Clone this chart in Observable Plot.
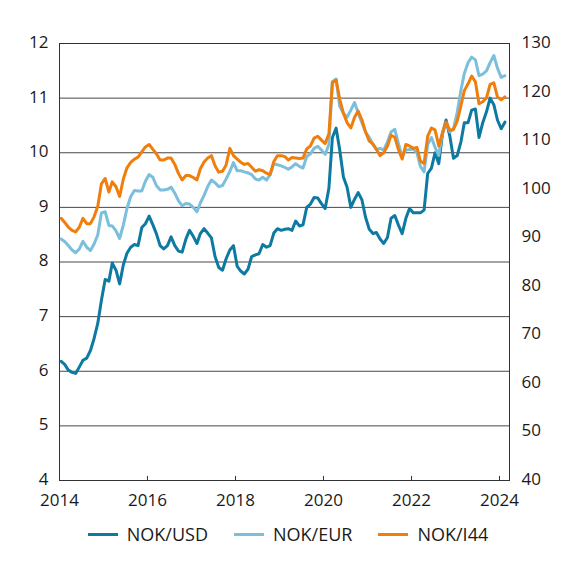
<!DOCTYPE html>
<html>
<head>
<meta charset="utf-8">
<script src="https://cdn.jsdelivr.net/npm/d3@7"></script>
<script src="https://cdn.jsdelivr.net/npm/@observablehq/plot@0.6"></script>
<style>
  body { margin: 0; background: #fff; font-family: "Open Sans", sans-serif; }
  #chart { width: 576px; }
  .legend { display: flex; justify-content: center; align-items: center; margin-top: 10px; height: 24px; font-size: 18px; color: #1a1a1a; }
  .legend .item { display: flex; align-items: center; margin: 0 13px; }
  .legend .sw { width: 30px; height: 3px; margin-right: 9px; }
</style>
</head>
<body>
<div id="chart"></div>
<script>
// monthly values, Jan 2014 - Feb 2024
const nokUsd = [
  6.18, 6.12, 6.02, 5.98, 5.96, 6.08, 6.2, 6.24, 6.38, 6.6, 6.88, 7.3,
  7.68, 7.65, 7.98, 7.85, 7.6, 7.95, 8.16, 8.27, 8.32, 8.3, 8.63, 8.7,
  8.84, 8.68, 8.52, 8.3, 8.24, 8.3, 8.46, 8.3, 8.2, 8.18, 8.42, 8.58,
  8.47, 8.34, 8.52, 8.61, 8.53, 8.44, 8.1, 7.9, 7.85, 8.06, 8.22, 8.3,
  7.92, 7.83, 7.78, 7.87, 8.1, 8.13, 8.15, 8.32, 8.27, 8.3, 8.53, 8.61,
  8.58, 8.6, 8.61, 8.58, 8.75, 8.66, 8.68, 9.0, 9.06, 9.18, 9.17, 9.07,
  8.98, 9.35, 10.28, 10.45, 10.05, 9.55, 9.37, 9.0, 9.15, 9.27, 9.14, 8.82,
  8.6, 8.52, 8.54, 8.42, 8.34, 8.45, 8.8, 8.85, 8.67, 8.52, 8.8, 8.98,
  8.9, 8.9, 8.9, 8.95, 9.62, 9.72, 10.0, 9.8, 10.35, 10.6, 10.3, 9.9,
  9.95, 10.2, 10.55, 10.55, 10.78, 10.8, 10.28, 10.55, 10.75, 11.0, 10.88, 10.6,
  10.44, 10.56
]
const nokEur = [
  8.42, 8.37, 8.3, 8.22, 8.17, 8.24, 8.38, 8.27, 8.21, 8.33, 8.5, 8.9,
  8.92, 8.67, 8.66, 8.57, 8.43, 8.68, 8.98, 9.2, 9.31, 9.3, 9.3, 9.48,
  9.6, 9.55, 9.4, 9.32, 9.32, 9.33, 9.37, 9.26, 9.12, 9.03, 9.07, 9.06,
  9.0, 8.92, 9.08, 9.22, 9.38, 9.5, 9.45, 9.38, 9.4, 9.52, 9.66, 9.82,
  9.67, 9.67, 9.65, 9.63, 9.6, 9.52, 9.5, 9.55, 9.5, 9.6, 9.8, 9.78,
  9.76, 9.73, 9.7, 9.74, 9.8, 9.75, 9.72, 9.93, 9.98, 10.08, 10.12, 10.05,
  9.97, 10.15, 11.3, 11.35, 10.85, 10.72, 10.65, 10.78, 10.92, 10.73, 10.55, 10.38,
  10.28, 10.15, 10.06, 10.08, 10.05, 10.2, 10.38, 10.43, 10.16, 9.93, 10.05, 10.06,
  10.07, 10.0, 9.75, 9.65, 10.15, 10.28, 10.1, 9.95, 10.38, 10.55, 10.38, 10.44,
  10.74, 11.15, 11.45, 11.65, 11.75, 11.7, 11.41, 11.44, 11.5, 11.65, 11.78, 11.55,
  11.38, 11.41
]
// NOK/I44 index, right axis
const nokI44 = [
  94.0, 93.1, 92.2, 91.5, 91.2, 92.2, 94.0, 92.9, 92.9, 94.3, 96.5, 101.1,
  102.2, 99.4, 101.5, 100.5, 98.5, 102.1, 104.4, 105.5, 106.2, 106.6, 107.7, 108.7,
  109.2, 108.2, 107.3, 106.0, 106.0, 106.4, 106.4, 105.1, 103.2, 101.9, 102.8, 102.8,
  102.4, 101.9, 104.2, 105.6, 106.4, 106.9, 104.8, 103.5, 103.7, 105.0, 108.4, 106.9,
  106.2, 105.5, 105.1, 105.3, 104.5, 103.7, 104.0, 103.8, 103.3, 103.0, 105.7, 106.9,
  106.9, 106.7, 106.0, 106.5, 106.4, 106.3, 106.4, 108.3, 108.9, 110.5, 110.9, 110.1,
  109.4, 111.4, 122.0, 122.4, 118.5, 115.6, 113.7, 112.6, 114.8, 116.1, 114.3, 111.8,
  109.9, 109.3, 108.2, 106.9, 107.5, 108.9, 111.1, 110.7, 108.1, 106.2, 109.2, 108.9,
  108.4, 108.6, 105.8, 105.3, 110.9, 112.6, 112.2, 108.9, 111.6, 113.8, 112.1, 112.3,
  114.0, 117.2, 120.3, 121.7, 123.3, 122.1, 117.6, 118.0, 118.8, 121.6, 121.9, 119.0,
  118.4, 119.0
]

const seriesNames = ['NOK/USD', 'NOK/EUR', 'NOK/I44']
const colors = ['#0e7aa1', '#7bbfdc', '#f07e0c']
const leftTicks = [4, 5, 6, 7, 8, 9, 10, 11, 12]
const rightTicks = [40, 50, 60, 70, 80, 90, 100, 110, 120, 130]
const yearTicks = [2014, 2016, 2018, 2020, 2022, 2024]

// right axis 40..130 sits on the left scale 4..12
const toLeft = v => 4 + (v - 40) / 11.25

const months = nokUsd.map((_, i) => new Date(Date.UTC(2014, i, 15)))
const rows = []
months.forEach((date, i) => {
  rows.push({date, series: seriesNames[0], value: nokUsd[i]})
  rows.push({date, series: seriesNames[1], value: nokEur[i]})
  rows.push({date, series: seriesNames[2], value: toLeft(nokI44[i])})
})

const yearDates = yearTicks.map(y => new Date(Date.UTC(y, 0, 1)))

const chart = Plot.plot({
  width: 576,
  height: 512,
  marginLeft: 59,
  marginRight: 67,
  marginTop: 43,
  marginBottom: 32,
  style: {fontFamily: '"Open Sans", sans-serif', fontSize: '17px', color: '#1a1a1a'},
  x: {type: 'utc', domain: [new Date(Date.UTC(2014, 0, 1)), new Date(Date.UTC(2024, 2, 24))]},
  y: {domain: [4, 12]},
  color: {domain: seriesNames, range: colors},
  marks: [
    Plot.gridY(leftTicks.slice(1, -1), {stroke: '#333', strokeOpacity: 1, strokeWidth: 0.9}),
    Plot.frame({stroke: '#333', strokeWidth: 1}),
    Plot.ruleX(yearDates.slice(1), {y1: 4, y2: 4.075, stroke: '#333'}),
    Plot.axisX(yearDates, {tickSize: 0, tickPadding: 13, tickFormat: d3.utcFormat('%Y'), label: null}),
    Plot.axisY(leftTicks, {anchor: 'left', tickSize: 0, tickPadding: 11, dy: -1, label: null, tickFormat: d => String(d)}),
    Plot.axisY(rightTicks.map(toLeft), {anchor: 'right', tickSize: 0, tickPadding: 12, dy: -1, label: null,
      tickFormat: (d, i) => rightTicks[i]}),
    Plot.lineY(rows, {x: 'date', y: 'value', z: 'series', stroke: 'series', strokeWidth: 3, strokeLinejoin: 'round'})
  ]
})

d3.select('#chart').append(() => chart)

// legend below the svg
const legend = d3.select('#chart').append('div').attr('class', 'legend')
seriesNames.forEach((name, i) => {
  const item = legend.append('div').attr('class', 'item')
  item.append('div').attr('class', 'sw').style('background', colors[i])
  item.append('span').text(name)
})
</script>
</body>
</html>
